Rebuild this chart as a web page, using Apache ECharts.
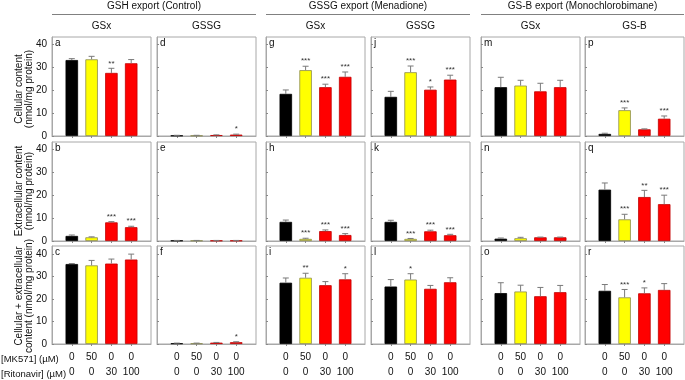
<!DOCTYPE html>
<html><head><meta charset="utf-8">
<script src="https://cdn.jsdelivr.net/npm/echarts@6/dist/echarts.min.js"></script>
<style>html,body{margin:0;padding:0;background:#fff}#c{width:685px;height:380px}</style>
</head><body><div id="c"></div>
<script>
// Tick labels
const mk571 = ['0', '50', '0', '0'];
const ritonavir = ['0', '0', '30', '100'];
const groupTitles = ['GSH export (Control)', 'GSSG export (Menadione)', 'GS-B export (Monochlorobimane)'];
const columnTitles = ['GSx', 'GSSG', 'GSx', 'GSSG', 'GSx', 'GS-B'];
const rowTitles = ['Cellular content\n(nmol/mg protein)', 'Extracellular content\n(nmol/mg protein)', 'Cellular + extracellular\ncontent (nmol/mg protein)'];
const yTicks = [0, 10, 20, 30, 40];

// Row 1: cellular
const a_mean = [33.0, 33.3, 27.4, 31.6]; const a_err = [0.6, 1.3, 2.0, 1.6]; const a_sig = ['', '', '**', ''];
const d_mean = [0.2, 0.2, 0.4, 0.6];     const d_err = [0.1, 0.1, 0.1, 0.2]; const d_sig = ['', '', '', '*'];
const g_mean = [18.3, 28.6, 21.2, 25.7]; const g_err = [1.7, 1.7, 1.3, 2.1]; const g_sig = ['', '***', '***', '***'];
const j_mean = [17.0, 27.7, 20.1, 24.5]; const j_err = [2.4, 2.7, 1.2, 1.9]; const j_sig = ['', '***', '*', '***'];
const m_mean = [21.2, 21.9, 19.4, 21.2]; const m_err = [4.3, 2.3, 3.5, 3.0]; const m_sig = ['', '', '', ''];
const p_mean = [0.9, 11.2, 2.9, 7.5];    const p_err = [0.3, 1.0, 0.2, 1.2]; const p_sig = ['', '***', '', '***'];
// Row 2: extracellular
const b_mean = [2.2, 1.6, 8.1, 6.0];     const b_err = [0.4, 0.2, 0.3, 0.4]; const b_sig = ['', '', '***', '***'];
const e_mean = [0.2, 0.2, 0.2, 0.2];     const e_err = [0.05, 0.05, 0.05, 0.05]; const e_sig = ['', '', '', ''];
const h_mean = [8.3, 0.9, 4.3, 2.6];     const h_err = [0.8, 0.3, 0.5, 0.6]; const h_sig = ['', '***', '***', '***'];
const k_mean = [8.3, 0.9, 4.2, 2.5];     const k_err = [0.7, 0.2, 0.5, 0.4]; const k_sig = ['', '***', '***', '***'];
const n_mean = [1.0, 1.2, 1.6, 1.6];     const n_err = [0.3, 0.4, 0.1, 0.1]; const n_sig = ['', '', '', ''];
const q_mean = [22.3, 9.4, 19.1, 16.0];  const q_err = [2.9, 2.2, 2.9, 3.9]; const q_sig = ['', '***', '**', '***'];
// Row 3: cellular + extracellular
const c_mean = [35.5, 34.9, 35.7, 37.5]; const c_err = [0.2, 2.2, 2.0, 2.4]; const c_sig = ['', '', '', ''];
const f_mean = [0.3, 0.3, 0.6, 0.8];     const f_err = [0.1, 0.1, 0.1, 0.2]; const f_sig = ['', '', '', '*'];
const i_mean = [27.2, 29.4, 26.1, 28.7]; const i_err = [2.1, 2.0, 1.6, 2.5]; const i_sig = ['', '**', '', '*'];
const l_mean = [25.5, 28.6, 24.5, 27.4]; const l_err = [3.1, 2.6, 1.5, 2.0]; const l_sig = ['', '*', '', ''];
const o_mean = [22.6, 23.3, 21.2, 23.0]; const o_err = [4.6, 2.8, 3.9, 3.0]; const o_sig = ['', '', '', ''];
const r_mean = [23.6, 20.7, 22.5, 24.0]; const r_err = [2.8, 3.5, 2.4, 2.8]; const r_sig = ['', '***', '*', ''];

const panels = [
  [['a', a_mean, a_err, a_sig], ['d', d_mean, d_err, d_sig], ['g', g_mean, g_err, g_sig], ['j', j_mean, j_err, j_sig], ['m', m_mean, m_err, m_sig], ['p', p_mean, p_err, p_sig]],
  [['b', b_mean, b_err, b_sig], ['e', e_mean, e_err, e_sig], ['h', h_mean, h_err, h_sig], ['k', k_mean, k_err, k_sig], ['n', n_mean, n_err, n_sig], ['q', q_mean, q_err, q_sig]],
  [['c', c_mean, c_err, c_sig], ['f', f_mean, f_err, f_sig], ['i', i_mean, i_err, i_sig], ['l', l_mean, l_err, l_sig], ['o', o_mean, o_err, o_sig], ['r', r_mean, r_err, r_sig]]
];

// Layout
const colLeft = [52, 157, 266, 371, 481, 585];
const panelW = 99;
const rowTop = [37, 142, 246];
const rowH = [99, 99, 100];
const yMax = [43, 43, 43.5];
const FONT = 'Liberation Sans, Arial, sans-serif';
const barFill = ['#000000', '#ffff00', '#ff0000', '#ff0000'];
const barBorder = ['#000000', '#8c8c50', '#c00000', '#c00000'];

const grids = [], xAxes = [], yAxes = [], series = [], graphics = [];
let idx = 0;
for (let r = 0; r < 3; r++) {
  for (let c = 0; c < 6; c++) {
    const [letter, mean, err, sig] = panels[r][c];
    grids.push({left: colLeft[c], top: rowTop[r], width: panelW, height: rowH[r], show: true, borderColor: '#a8a8a8', borderWidth: 1, backgroundColor: 'transparent'});
    xAxes.push({
      gridIndex: idx, type: 'value', min: 0, max: 5, interval: 1,
      axisLine: {show: true, lineStyle: {color: '#a8a8a8', width: 1}},
      splitLine: {show: false},
      axisTick: {show: true, customValues: [1, 2, 3, 4], length: 2, inside: false, lineStyle: {color: '#888'}},
      axisLabel: {show: r === 2, customValues: [1, 2, 3, 4], margin: 6, fontSize: 10, lineHeight: 15, color: '#111', fontFamily: FONT,
        formatter: v => mk571[Math.round(v) - 1] + '\n' + ritonavir[Math.round(v) - 1]}
    });
    yAxes.push({
      gridIndex: idx, type: 'value', min: 0, max: yMax[r], interval: 10,
      axisLine: {show: true, lineStyle: {color: '#a8a8a8', width: 1}},
      splitLine: {show: false},
      axisTick: {show: true, customValues: yTicks, length: 2, inside: true, lineStyle: {color: '#888'}},
      axisLabel: {show: c === 0, customValues: yTicks, margin: 5, fontSize: 10, color: '#111', fontFamily: FONT}
    });
    series.push({
      type: 'bar', xAxisIndex: idx, yAxisIndex: idx, barWidth: 12.5, z: 2,
      data: mean.map((v, k) => ({value: [k + 1, v], itemStyle: {color: barFill[k], borderColor: barBorder[k], borderWidth: 0.8}})),
      animation: false
    });
    const sigArr = sig;
    series.push({
      type: 'custom', xAxisIndex: idx, yAxisIndex: idx, z: 3, animation: false, clip: false,
      data: mean.map((v, k) => [k + 1, v, err[k]]),
      renderItem: (params, api) => {
        const x = api.value(0), m = api.value(1), e = api.value(2);
        const p0 = api.coord([x, m]);
        const p1 = api.coord([x, m + e]);
        const children = [
          {type: 'line', shape: {x1: p0[0], y1: p0[1], x2: p1[0], y2: p1[1]}, style: {stroke: '#7a7a7a', lineWidth: 1}},
          {type: 'line', shape: {x1: p1[0] - 3, y1: p1[1], x2: p1[0] + 3, y2: p1[1]}, style: {stroke: '#7a7a7a', lineWidth: 1}}
        ];
        const s = sigArr[params.dataIndex];
        if (s) children.push({type: 'text', x: p1[0], y: p1[1] - 1, style: {text: s, fontSize: 8, fill: '#333', align: 'center', verticalAlign: 'bottom', fontFamily: FONT}});
        return {type: 'group', children};
      }
    });
    graphics.push({type: 'text', left: colLeft[c] + 3, top: rowTop[r] + 1, style: {text: letter, fontSize: 10, fill: '#111', fontFamily: FONT}});
    idx++;
  }
}

// Headers
const groupSpan = [[52, 256], [266, 470], [481, 684]];
groupSpan.forEach((s, g) => {
  graphics.push({type: 'text', x: (s[0] + s[1]) / 2, y: 6, style: {text: groupTitles[g], fontSize: 10, fill: '#111', align: 'center', verticalAlign: 'middle', fontFamily: FONT}});
  graphics.push({type: 'line', shape: {x1: s[0], y1: 14.5, x2: s[1], y2: 14.5}, style: {stroke: '#808080', lineWidth: 1}});
});
columnTitles.forEach((t, c) => {
  graphics.push({type: 'text', x: colLeft[c] + panelW / 2, y: 26, style: {text: t, fontSize: 10, fill: '#111', align: 'center', verticalAlign: 'middle', fontFamily: FONT}});
});
const rowCenter = [89, 191, 296];
rowTitles.forEach((t, r) => {
  graphics.push({type: 'text', x: 24, y: rowCenter[r], rotation: Math.PI / 2, style: {text: t, fontSize: 10, lineHeight: 10, fill: '#111', align: 'center', verticalAlign: 'middle', fontFamily: FONT}});
});
graphics.push({type: 'text', x: 1, y: 359, style: {text: '[MK571] (µM)', fontSize: 9.5, fill: '#111', verticalAlign: 'middle', fontFamily: FONT}});
graphics.push({type: 'text', x: 1, y: 374, style: {text: '[Ritonavir] (µM)', fontSize: 9.5, fill: '#111', verticalAlign: 'middle', fontFamily: FONT}});

const chart = echarts.init(document.getElementById('c'), null, {renderer: 'canvas'});
chart.setOption({
  animation: false,
  backgroundColor: '#fff',
  grid: grids, xAxis: xAxes, yAxis: yAxes, series: series, graphic: graphics
});
</script></body></html>
